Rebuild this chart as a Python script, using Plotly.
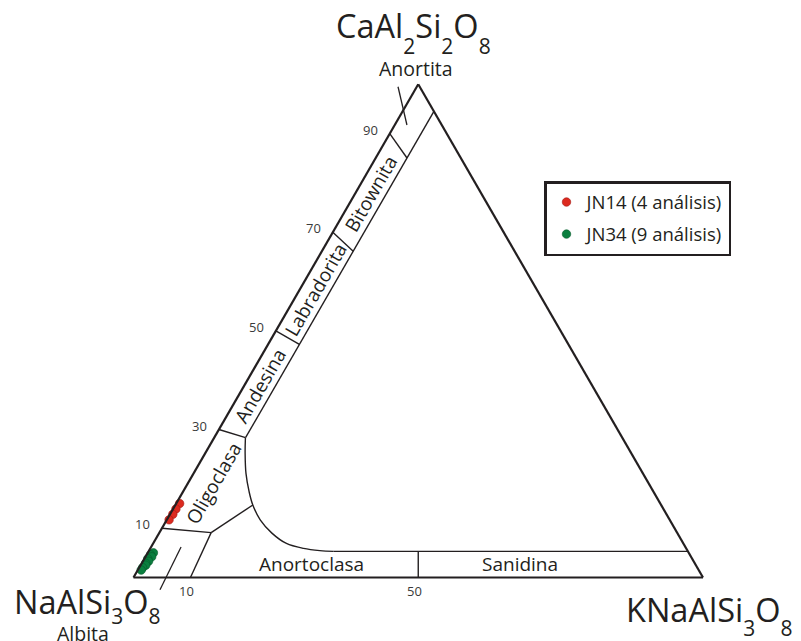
import math
import plotly.graph_objects as go

W, H = 801, 641
INK = "#231f20"
FONT = "Open Sans"

# ---- analyses (mol %); Ab is the remainder ----
jn14_an = [15.0, 13.9, 12.8, 11.7]
jn14_or = [0.6, 0.5, 0.5, 0.4]
jn34_an = [5.0, 4.6, 4.2, 3.8, 3.3, 2.9, 2.5, 2.0, 1.5]
jn34_or = [1.0, 0.7, 1.1, 0.6, 1.0, 0.7, 0.9, 0.6, 0.6]

# ---- field boundaries ----
plag_or_limit = 5.5        # Or bounding the plagioclase strip
alkali_an_limit = 5.3      # An bounding the alkali-feldspar strip
plag_divisions = [90, 70, 50, 30]   # An/(An+Ab) x 100
albite_limit = 10                   # An/(An+Ab) and Or/(Or+Ab) of the albite field
sanidine_split = 50                 # Or/(Or+Ab) between anorthoclase and sanidine
# curved limit of the oligoclase field (An, Or)
curve_an = [28.3, 25.2, 21.1, 17.4, 14.7, 11.7, 9.0, 6.9, 5.9, 5.45, 5.3]
curve_or = [5.5, 7.0, 9.2, 11.6, 13.6, 16.4, 19.8, 23.4, 26.9, 30.0, 32.5]
knee_an, knee_or = 14.7, 13.6       # where the albite-field limit meets the curve

# ---- labels ----
plag_names = ["Bitownita", "Labradorita", "Andesina", "Oligoclasa"]
plag_label_ratio = [80, 60, 40, 20]
plag_label_or = [2.75, 2.75, 2.75, 4.6]
alkali_names = ["Anortoclasa", "Sanidina"]
alkali_label_or = [30.0, 66.5]
left_ticks = [90, 70, 50, 30, 10]
bottom_ticks = [10, 50]
apex_formulas = {
    "an": [("CaAl", False), ("2", True), ("Si", False), ("2", True), ("O", False), ("8", True)],
    "ab": [("NaAlSi", False), ("3", True), ("O", False), ("8", True)],
    "or": [("KNaAlSi", False), ("3", True), ("O", False), ("8", True)],
}
apex_names = {"an": "Anortita", "ab": "Albita"}

# ---- triangle placement on the page ----
tri_left_px = 133.5
tri_bottom_px = 577.5
tri_w_px = 569.5
tri_h_px = tri_w_px * math.sqrt(3) / 2
domain_x = [tri_left_px / W, (tri_left_px + tri_w_px) / W]
domain_y = [(H - tri_bottom_px) / H, (H - tri_bottom_px + tri_h_px) / H]


def to_paper(an, orr):
    """Composition (An, Or in %) -> paper coordinates of the ternary."""
    fx = (orr + an / 2.0) / 100.0
    fy = an / 100.0
    return ((tri_left_px + fx * tri_w_px) / W,
            (H - tri_bottom_px + fy * tri_h_px) / H)


def on_ray(ratio, orr):
    """Point with An/(An+Ab)=ratio % and given Or %; returns (An, Ab, Or)."""
    rest = 100.0 - orr
    return ratio / 100.0 * rest, (1 - ratio / 100.0) * rest, orr


# chemical formulas with large, dropped subscripts
BIG, SMALL = 32.5, 21


def formula(parts, drop):
    """Rich text for a formula; <sub> drops 0.21 em of the carrier font size."""
    out = []
    for txt, sub in parts:
        if sub:
            out.append('<sub><span style="font-size:%gpx">%s</span></sub>' % (SMALL, txt))
        else:
            out.append('<span style="font-size:%gpx">%s</span>' % (BIG, txt))
    return "".join(out), drop / 0.21


fig = go.Figure()


def boundary(pts, shape="linear", width=1.4):
    fig.add_trace(go.Scatterternary(
        a=[p[0] for p in pts], b=[p[1] for p in pts], c=[p[2] for p in pts],
        mode="lines", line=dict(color=INK, width=width, shape=shape),
        showlegend=False, hoverinfo="skip", cliponaxis=False))


o = plag_or_limit
# inner limit of the plagioclase strip
boundary([(100 - o, 0, o), on_ray(plag_divisions[-1], o)])
# plagioclase divisions (rays towards the Or apex)
for r in plag_divisions:
    boundary([on_ray(r, 0), on_ray(r, o)])
# curved limit of the oligoclase / anorthoclase fields
boundary([(a, 100 - a - c, c) for a, c in zip(curve_an, curve_or)], shape="spline")
# alkali-feldspar strip
ak = alkali_an_limit
boundary([(ak, 100 - ak - curve_or[-1], curve_or[-1]), (ak, 0, 100 - ak)])
# albite field: An/(An+Ab) = Or/(Or+Ab) = albite_limit meet at one corner
k = albite_limit / (100.0 - albite_limit)
p_ab = 100.0 / (1 + 2 * k)
p_an = p_or = k * p_ab
boundary([(albite_limit, 100 - albite_limit, 0), (p_an, p_ab, p_or)])
boundary([(0, 100 - albite_limit, albite_limit), (p_an, p_ab, p_or)])
boundary([(p_an, p_ab, p_or), (knee_an, 100 - knee_an - knee_or, knee_or)])
# anorthoclase / sanidine split
s = sanidine_split / 100.0
boundary([(0, 100 * (1 - s), 100 * s), (ak, (100 - ak) * (1 - s), (100 - ak) * s)])

# analyses
samples = [
    ("JN14 (4 análisis)", jn14_an, jn14_or, "#dc2a1f", "#a51a14"),
    ("JN34 (9 análisis)", jn34_an, jn34_or, "#0b7f3f", "#075a2c"),
]
for name, an, orr, fill, edge in samples:
    fig.add_trace(go.Scatterternary(
        a=an, b=[100 - x - y for x, y in zip(an, orr)], c=orr,
        mode="markers", name=name, legendgroup=name,
        marker=dict(size=8.5, color=fill, line=dict(color=edge, width=0.6)),
        cliponaxis=False))


def label(x, y, text, size, **kw):
    d = dict(x=x, y=y, xref="paper", yref="paper", text=text, showarrow=False,
             xanchor="center", yanchor="middle",
             font=dict(size=size, color=kw.pop("color", INK), family=FONT))
    d.update(kw)
    return d


annotations = []
# field names inside the plagioclase strip
for name, r, orr in zip(plag_names, plag_label_ratio, plag_label_or):
    a, b, c = on_ray(r, orr)
    x, y = to_paper(a, c)
    annotations.append(label(x, y, name, 19, textangle=-60))
for name, c in zip(alkali_names, alkali_label_or):
    x, y = to_paper(ak / 2, c)
    annotations.append(label(x, y, name, 19))
# tick values
for t in left_ticks:
    x, y = to_paper(t, 0)
    annotations.append(label(x, y, str(t), 13, color="#3a3a3a", xshift=-19, yshift=4))
for t in bottom_ticks:
    x, y = to_paper(0, t)
    annotations.append(label(x, y, str(t), 13, color="#3a3a3a", xshift=-4, yshift=-13))

# apex names
ax, ay = to_paper(100, 0)
bx, by = to_paper(0, 0)
cx, cy = to_paper(0, 100)
an_txt, an_size = formula(apex_formulas["an"], 16)
ab_txt, ab_size = formula(apex_formulas["ab"], 10)
or_txt, or_size = formula(apex_formulas["or"], 14)
annotations += [
    label(ax, ay, an_txt, an_size, xanchor="left", yanchor="bottom", xshift=-84, yshift=22.6),
    label(ax, ay, apex_names["an"], 19.5, xshift=-2.5, yshift=16),
    label(bx, by, ab_txt, ab_size, xanchor="left", yanchor="bottom", xshift=-121.5, yshift=-54.5),
    label(bx, by, apex_names["ab"], 19.5, xshift=-51, yshift=-56),
    label(cx, cy, or_txt, or_size, xanchor="left", yanchor="bottom", xshift=-79.5, yshift=-66.3),
]

# pointer lines for the apex names
shapes = []
for (a0, c0), (a1, c1) in [((99.5, -3.3), (91.75, 2.14)),
                            ((6.2, 5.25), (-2.5, 5.9))]:
    x0, y0 = to_paper(a0, c0)
    x1, y1 = to_paper(a1, c1)
    shapes.append(dict(type="line", xref="paper", yref="paper", x0=x0, y0=y0, x1=x1, y1=y1,
                       line=dict(color=INK, width=1.3)))

hidden = dict(showticklabels=False, ticks="", showgrid=False, showline=True,
              linecolor=INK, linewidth=2.2, title=dict(text=""))
fig.update_layout(
    width=W, height=H, margin=dict(l=0, r=0, t=0, b=0),
    paper_bgcolor="white",
    ternary=dict(sum=100, domain=dict(x=domain_x, y=domain_y), bgcolor="white",
                 aaxis=hidden, baxis=hidden, caxis=hidden),
    annotations=annotations, shapes=shapes,
    legend=dict(x=544 / W, y=1 - 181 / H, xanchor="left", yanchor="top",
                bgcolor="white", bordercolor=INK, borderwidth=2.5,
                font=dict(size=18.5, color=INK, family=FONT),
                tracegroupgap=5, itemsizing="trace"),
    font=dict(family=FONT, color=INK),
)

fig.write_html("out.html")
